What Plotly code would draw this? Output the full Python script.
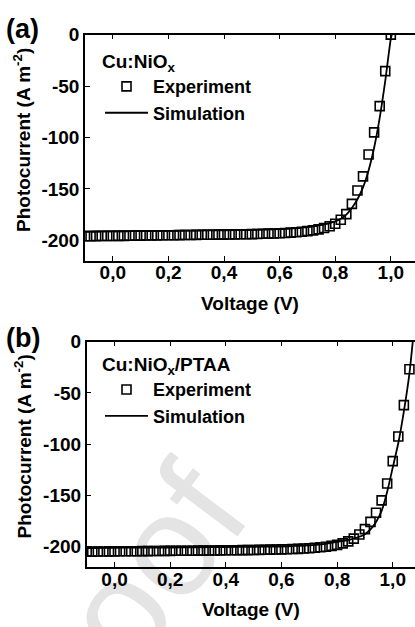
import plotly.graph_objects as go

# ---- panel (a): Cu:NiOx ----
v_exp_a = [-0.10, -0.08, -0.06, -0.04, -0.02, 0.00, 0.02, 0.04, 0.06, 0.08,
           0.10, 0.12, 0.14, 0.16, 0.18, 0.20, 0.22, 0.24, 0.26, 0.28,
           0.30, 0.32, 0.34, 0.36, 0.38, 0.40, 0.42, 0.44, 0.46, 0.48,
           0.50, 0.52, 0.54, 0.56, 0.58, 0.60, 0.62, 0.64, 0.66, 0.68,
           0.70, 0.72, 0.74, 0.76, 0.78, 0.80, 0.82, 0.84, 0.86, 0.88,
           0.90, 0.92, 0.94, 0.96, 0.98, 1.00]
j_exp_a = [-196.0, -196.0, -195.9, -195.8, -195.8, -195.7, -195.6, -195.6, -195.5, -195.4,
           -195.4, -195.3, -195.2, -195.2, -195.1, -195.0, -195.0, -194.9, -194.8, -194.8,
           -194.7, -194.6, -194.6, -194.5, -194.4, -194.4, -194.3, -194.2, -194.1, -194.0,
           -193.9, -193.8, -193.6, -193.5, -193.3, -193.1, -192.8, -192.5, -192.1, -191.6,
           -191.0, -190.3, -189.3, -188.0, -186.3, -183.8, -180.0, -174.5, -164.5, -151.5,
           -137.8, -116.5, -95.0, -69.5, -35.5, 0.0]
v_sim_a = [-0.10, 0.00, 0.10, 0.20, 0.30, 0.40, 0.50, 0.60, 0.65, 0.70, 0.75, 0.80,
           0.82, 0.84, 0.86, 0.88, 0.90, 0.92, 0.94, 0.96, 0.98, 1.00, 1.004]
j_sim_a = [-191.3, -191.1, -190.9, -190.7, -190.5, -190.2, -189.8, -189.1, -188.4, -187.2, -185.0, -181.5,
           -179.0, -175.0, -168.5, -160.0, -148.5, -132.0, -110.0, -81.0, -45.0, -4.0, 0.0]

# ---- panel (b): Cu:NiOx/PTAA ----
v_exp_b = [-0.10, -0.08, -0.06, -0.04, -0.02, 0.00, 0.02, 0.04, 0.06, 0.08,
           0.10, 0.12, 0.14, 0.16, 0.18, 0.20, 0.22, 0.24, 0.26, 0.28,
           0.30, 0.32, 0.34, 0.36, 0.38, 0.40, 0.42, 0.44, 0.46, 0.48,
           0.50, 0.52, 0.54, 0.56, 0.58, 0.60, 0.62, 0.64, 0.66, 0.68,
           0.70, 0.72, 0.74, 0.76, 0.78, 0.80, 0.82, 0.84, 0.86, 0.88,
           0.90, 0.92, 0.94, 0.96, 0.98, 1.00, 1.02, 1.04, 1.06]
j_exp_b = [-205.0, -205.0, -204.9, -204.9, -204.8, -204.8, -204.7, -204.7, -204.6, -204.6,
           -204.5, -204.5, -204.4, -204.4, -204.3, -204.3, -204.2, -204.2, -204.1, -204.1,
           -204.0, -204.0, -203.9, -203.9, -203.8, -203.7, -203.7, -203.6, -203.5, -203.5,
           -203.4, -203.3, -203.2, -203.1, -203.0, -202.8, -202.7, -202.5, -202.3, -202.0,
           -201.7, -201.3, -200.8, -200.2, -199.4, -198.4, -197.0, -195.0, -192.3, -188.3,
           -183.0, -176.0, -167.0, -155.0, -138.5, -116.7, -92.6, -62.0, -27.0]
v_sim_b = [-0.10, 0.00, 0.10, 0.20, 0.30, 0.40, 0.50, 0.60, 0.65, 0.70, 0.75, 0.80,
           0.85, 0.88, 0.90, 0.92, 0.94, 0.96, 0.98, 1.00, 1.02, 1.04, 1.06, 1.072]
j_sim_b = [-201.5, -201.3, -201.1, -201.0, -200.8, -200.6, -200.3, -200.0, -199.5, -198.9, -197.6, -195.6,
           -193.0, -190.5, -188.0, -183.3, -176.0, -165.3, -146.5, -123.0, -99.0, -68.0, -31.0, 0.0]

# ---- axis ticks ----
x_tickvals = [0.0, 0.2, 0.4, 0.6, 0.8, 1.0]
x_ticktext = ["0,0", "0,2", "0,4", "0,6", "0,8", "1,0"]
y_tickvals = [-200, -150, -100, -50, 0]
y_ticktext = ["-200", "-150", "-100", "-50", "0"]

FONT = "Liberation Sans, Arial, sans-serif"
FS = 19
W, H = 415, 627
ML = 85

fig = go.Figure()

panels = [
    dict(xa="x", ya="y", leg="legend", v_exp=v_exp_a, j_exp=j_exp_a, v_sim=v_sim_a, j_sim=j_sim_a),
    dict(xa="x2", ya="y2", leg="legend2", v_exp=v_exp_b, j_exp=j_exp_b, v_sim=v_sim_b, j_sim=j_sim_b),
]
for p in panels:
    fig.add_trace(go.Scatter(
        x=p["v_exp"], y=p["j_exp"], mode="markers", name="Experiment",
        xaxis=p["xa"], yaxis=p["ya"], legend=p["leg"],
        marker=dict(symbol="square-open", size=9, color="black", line=dict(width=1.6)),
    ))
    fig.add_trace(go.Scatter(
        x=p["v_sim"], y=p["j_sim"], mode="lines", name="Simulation",
        xaxis=p["xa"], yaxis=p["ya"], legend=p["leg"],
        line=dict(color="black", width=1.8, shape="spline", smoothing=0.6),
    ))

tick_font = dict(family=FONT, size=FS, color="black", weight="bold")
axis_common = dict(
    showgrid=False, zeroline=False, showline=True, linecolor="black", linewidth=1.5,
    ticks="inside", ticklen=5, tickwidth=1.4, tickcolor="black",
    tickfont=tick_font, title_font=tick_font,
)
# right-hand tick marks only (no frame line on that side)
right_ticks = dict(
    showgrid=False, zeroline=False, showline=False, ticks="inside", ticklen=5,
    tickwidth=1.4, tickcolor="black", showticklabels=False, side="right",
    range=[-220, 0], tickvals=y_tickvals,
)

def ydom(top_px, bot_px):
    return [1 - bot_px / H, 1 - top_px / H]

y_title = "&nbsp;&nbsp;&nbsp;Photocurrent (A m<sup>-2</sup>)"

fig.update_layout(
    width=W, height=H,
    margin=dict(l=ML, r=0, t=0, b=0),
    paper_bgcolor="white", plot_bgcolor="rgba(0,0,0,0)",
    showlegend=True,
    xaxis=dict(axis_common, mirror="ticks", domain=[0, 1], range=[-0.1, 1.087], anchor="y",
               tickvals=x_tickvals, ticktext=x_ticktext, ticklabelstandoff=-6,
               title=dict(text="Voltage (V)", standoff=14)),
    yaxis=dict(axis_common, domain=ydom(25, 255), range=[-220, 0], anchor="x",
               tickvals=y_tickvals, ticktext=y_ticktext,
               title=dict(text=y_title, standoff=6)),
    xaxis2=dict(axis_common, mirror="ticks", domain=[1.7 / (W - ML), 1], range=[-0.1, 1.08], anchor="y2",
                tickvals=x_tickvals, ticktext=x_ticktext, ticklabelstandoff=-6,
                title=dict(text="Voltage (V)", standoff=14)),
    yaxis2=dict(axis_common, domain=ydom(337, 566), range=[-220, 0], anchor="x2",
                tickvals=y_tickvals, ticktext=y_ticktext,
                title=dict(text=y_title, standoff=6)),
    yaxis3=dict(right_ticks, overlaying="y", anchor="x"),
    yaxis4=dict(right_ticks, overlaying="y2", anchor="x2"),
)

legend_common = dict(
    xanchor="left", yanchor="top", bgcolor="rgba(0,0,0,0)", borderwidth=0,
    font=dict(family=FONT, size=18, color="black", weight="bold"),
    itemwidth=43, tracegroupgap=0,
)
title_font = dict(family=FONT, size=FS, color="black", weight="bold")
fig.update_layout(
    legend=dict(legend_common, x=(100 - ML) / (W - ML), y=1 - 34 / H,
                title=dict(text="Cu:NiO<sub>x</sub>", font=title_font)),
    legend2=dict(legend_common, x=(100 - ML) / (W - ML), y=1 - 342 / H,
                 title=dict(text="Cu:NiO<sub>x</sub>/PTAA", font=title_font)),
)

# panel letters
for label, ypx in [("(a)", 19), ("(b)", 333)]:
    fig.add_annotation(text=label, xref="paper", yref="paper",
                       x=(4 - ML) / (W - ML), y=1 - ypx / H, xanchor="left", yanchor="middle",
                       showarrow=False,
                       font=dict(family=FONT, size=27, color="black", weight="bold"))

# light diagonal watermark behind the plots
wx, wy = (21 - ML) / (W - ML), 1 - 719 / H
fig.add_shape(type="rect", xref="paper", yref="paper", layer="below",
              x0=wx - 0.01, x1=wx + 0.01, y0=wy - 0.01, y1=wy + 0.01,
              line=dict(width=0), fillcolor="rgba(0,0,0,0)",
              label=dict(text="Pre-proof", textangle=-53, textposition="middle center",
                         font=dict(family=FONT, size=145, color="#e4e4e4")))

fig.write_html("out.html")
